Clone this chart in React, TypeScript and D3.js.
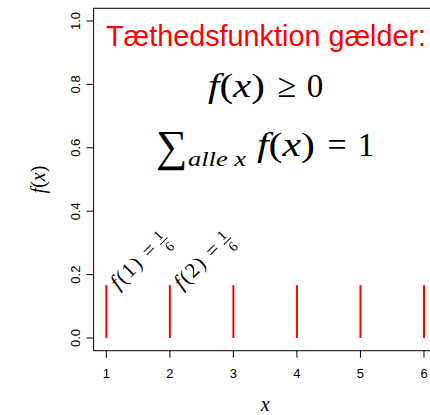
import React from "react";
import * as d3 from "d3";

const xs = [1, 2, 3, 4, 5, 6];
const probs = [1 / 6, 1 / 6, 1 / 6, 1 / 6, 1 / 6, 1 / 6];
const yTicks = [0, 0.2, 0.4, 0.6, 0.8, 1.0];
const labelled = [1, 2];

const W = 430;
const H = 415;

const x = d3.scaleLinear().domain([0.8, 6.2]).range([93.6, 436.7]);
const y = d3.scaleLinear().domain([-0.04, 1.04]).range([350.7, 8.3]);

const serif = "'Liberation Serif', serif";
const sans = "'Liberation Sans', sans-serif";

// rotated label f(k) = 1/6 sitting on top of the spike
const Annot = ({ k }: { k: number }) => (
  <g transform={`translate(${x(k) + 12},${y(probs[k - 1]) + 5}) rotate(-45)`}
     fontFamily={serif} fill="#000">
    <text x={0} y={0} fontSize={21} textLength={56} lengthAdjust="spacing">
      <tspan fontStyle="italic">f</tspan>({k}) =
    </text>
    <text x={67} y={-6} fontSize={14} textAnchor="middle">1</text>
    <line x1={62} x2={72} y1={-2.5} y2={-2.5} stroke="#000" strokeWidth={1} />
    <text x={67} y={10} fontSize={14} textAnchor="middle">6</text>
  </g>
);

const Fx = ({ x0, base, w }: { x0: number; base: number; w: number }) => (
  <text x={x0} y={base} fontFamily={serif} fontSize={34} textLength={w} lengthAdjust="spacingAndGlyphs">
    <tspan fontStyle="italic">f</tspan>(<tspan fontStyle="italic">x</tspan>)
  </text>
);

export default function App() {
  const [x0, x1] = x.range();
  const [y0, y1] = y.range();
  return (
    <svg width={W} height={H} style={{ position: "absolute", left: 0, top: 0, background: "#fff" }}>
      <rect x={x0} y={y1} width={x1 - x0} height={y0 - y1} fill="none" stroke="#000" strokeWidth={1} />

      {/* y axis */}
      {yTicks.map((t) => (
        <g key={t}>
          <line x1={x0} x2={x0 - 7} y1={y(t)} y2={y(t)} stroke="#000" />
          <text transform={`translate(${x0 - 14},${y(t)}) rotate(-90)`} textAnchor="middle"
                fontFamily={sans} fontSize={13}>{t.toFixed(1)}</text>
        </g>
      ))}

      {/* x axis */}
      {xs.map((v) => (
        <g key={v}>
          <line x1={x(v)} x2={x(v)} y1={y0} y2={y0 + 7} stroke="#000" />
          <text x={x(v)} y={y0 + 27} textAnchor="middle" fontFamily={sans} fontSize={13}>{v}</text>
        </g>
      ))}

      <text x={(x0 + x1) / 2} y={411} textAnchor="middle" fontFamily={serif} fontStyle="italic" fontSize={20}>x</text>
      <text transform={`translate(45,${(y0 + y1) / 2}) rotate(-90)`} textAnchor="middle" fontFamily={serif} fontSize={20}>
        <tspan fontStyle="italic">f</tspan>(<tspan fontStyle="italic">x</tspan>)
      </text>

      {/* spikes */}
      {xs.map((v, i) => (
        <line key={v} x1={x(v)} x2={x(v)} y1={y(0)} y2={y(probs[i])} stroke="#ff0000" strokeWidth={2} />
      ))}

      {labelled.map((k) => <Annot key={k} k={k} />)}

      <text x={106} y={46} fontFamily={sans} fontSize={29} fill="#ff0000" textLength={320} lengthAdjust="spacingAndGlyphs">
        Tæthedsfunktion gælder:
      </text>

      <Fx x0={208} base={97} w={57} />
      <text x={287} y={97} textAnchor="middle" fontFamily={serif} fontSize={34}>≥</text>
      <text x={315} y={97} textAnchor="middle" fontFamily={serif} fontSize={33}>0</text>

      <text x={156} y={161} fontFamily={serif} fontSize={44}>∑</text>
      <text x={188} y={166} fontFamily={serif} fontStyle="italic" fontSize={22} textLength={58} lengthAdjust="spacingAndGlyphs">alle x</text>
      <Fx x0={257} base={156} w={58} />
      <text x={337} y={156} textAnchor="middle" fontFamily={serif} fontSize={34}>=</text>
      <text x={366} y={156} textAnchor="middle" fontFamily={serif} fontSize={33}>1</text>
    </svg>
  );
}
